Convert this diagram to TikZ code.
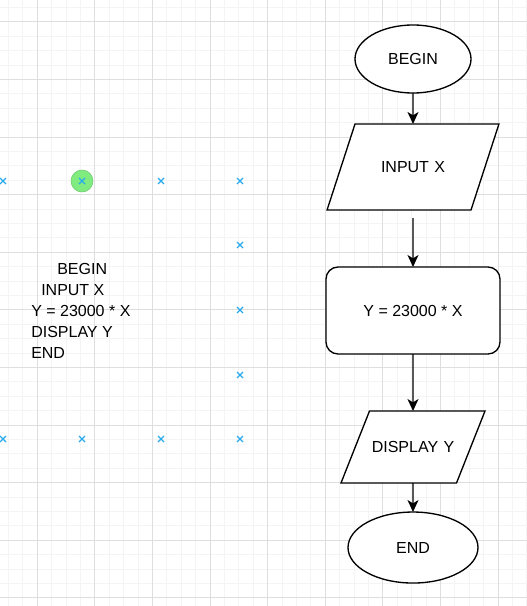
\documentclass[tikz,border=0pt]{standalone}
\usepackage{fontspec}
\setmainfont{Liberation Sans}
\usetikzlibrary{shapes,arrows.meta,positioning}
\definecolor{gridmajor}{RGB}{222,222,222}
\definecolor{gridminor}{RGB}{244,244,244}
\definecolor{markblue}{RGB}{41,170,238}
\definecolor{hovergreen}{RGB}{128,236,128}

\begin{document}
\begin{tikzpicture}[x=0.75pt, y=-0.75pt,
    every node/.style={font=\fontsize{12}{15.75}\selectfont},
    terminal/.style={ellipse, draw, line width=1pt, fill=white, inner sep=0pt, outer sep=0pt},
    io/.style={trapezium, draw, line width=1pt, fill=white, inner xsep=0pt, outer sep=0pt, align=center, text height=8.6pt, text depth=0pt},
    process/.style={rectangle, rounded corners=9pt, draw, line width=1pt, fill=white, minimum width=130.5pt, minimum height=65.25pt, outer sep=0pt},
    arrow/.style={-{Stealth[length=9pt, width=8.25pt, inset=2.5pt]}, line width=1pt},
    xmark/.style={markblue, line width=0.9pt}]

    \useasboundingbox (0,0) rectangle (527,606);

    % background grid
    \fill[white] (0,0) rectangle (527,606);
    \foreach \k in {-2,...,34} \draw[gridminor, line width=0.75pt] (37.3+14.4*\k,0) -- (37.3+14.4*\k,606);
    \foreach \k in {-1,...,40} \draw[gridminor, line width=0.75pt] (0,21.9+14.4*\k) -- (527,21.9+14.4*\k);
    \foreach \k in {0,...,8} \draw[gridmajor, line width=0.75pt] (37.3+57.6*\k,0) -- (37.3+57.6*\k,606);
    \foreach \k in {0,...,10} \draw[gridmajor, line width=0.75pt] (0,21.9+57.6*\k) -- (527,21.9+57.6*\k);

    % pseudo code
    \node[anchor=north west, align=left, inner sep=0pt] (code) at (31,263.5)
        {\hspace*{19.5pt}BEGIN\\\hspace*{7.5pt}INPUT X\\Y = 23000 * X\\DISPLAY Y\\END};

    % connection markers
    \node[circle, fill=hovergreen, draw=hovergreen!85!black, minimum size=16.5pt, inner sep=0pt] (hover) at (82,181) {};
    \foreach \px/\py in {3/181, 82/181, 161/181, 240/181, 240/245, 240/310, 240/375, 3/439, 82/439, 161/439, 240/439}
        \draw[xmark] (\px-3,\py-3) -- (\px+3,\py+3) (\px-3,\py+3) -- (\px+3,\py-3);

    % flowchart
    \node[terminal, minimum width=87pt, minimum height=51pt] (start) at (413,59) {BEGIN};
    \node[io, trapezium left angle=72, trapezium right angle=108, text width=87pt, inner ysep=27.95pt, below=23.25pt of start] (input) {INPUT X};
    \node[process, below=42.75pt of input] (calc) {Y = 23000 * X};
    \node[io, trapezium left angle=68.4, trapezium right angle=111.6, text width=65.25pt, inner ysep=22.7pt, below=42.75pt of calc] (display) {DISPLAY Y};
    \node[terminal, minimum width=97.5pt, minimum height=53.25pt, below=21.75pt of display] (stop) {END};

    \draw[arrow] (start) -- (input);
    \draw[arrow, shorten <=6pt] (input) -- (calc);
    \draw[arrow] (calc) -- (display);
    \draw[arrow] (display) -- (stop);
\end{tikzpicture}
\end{document}
